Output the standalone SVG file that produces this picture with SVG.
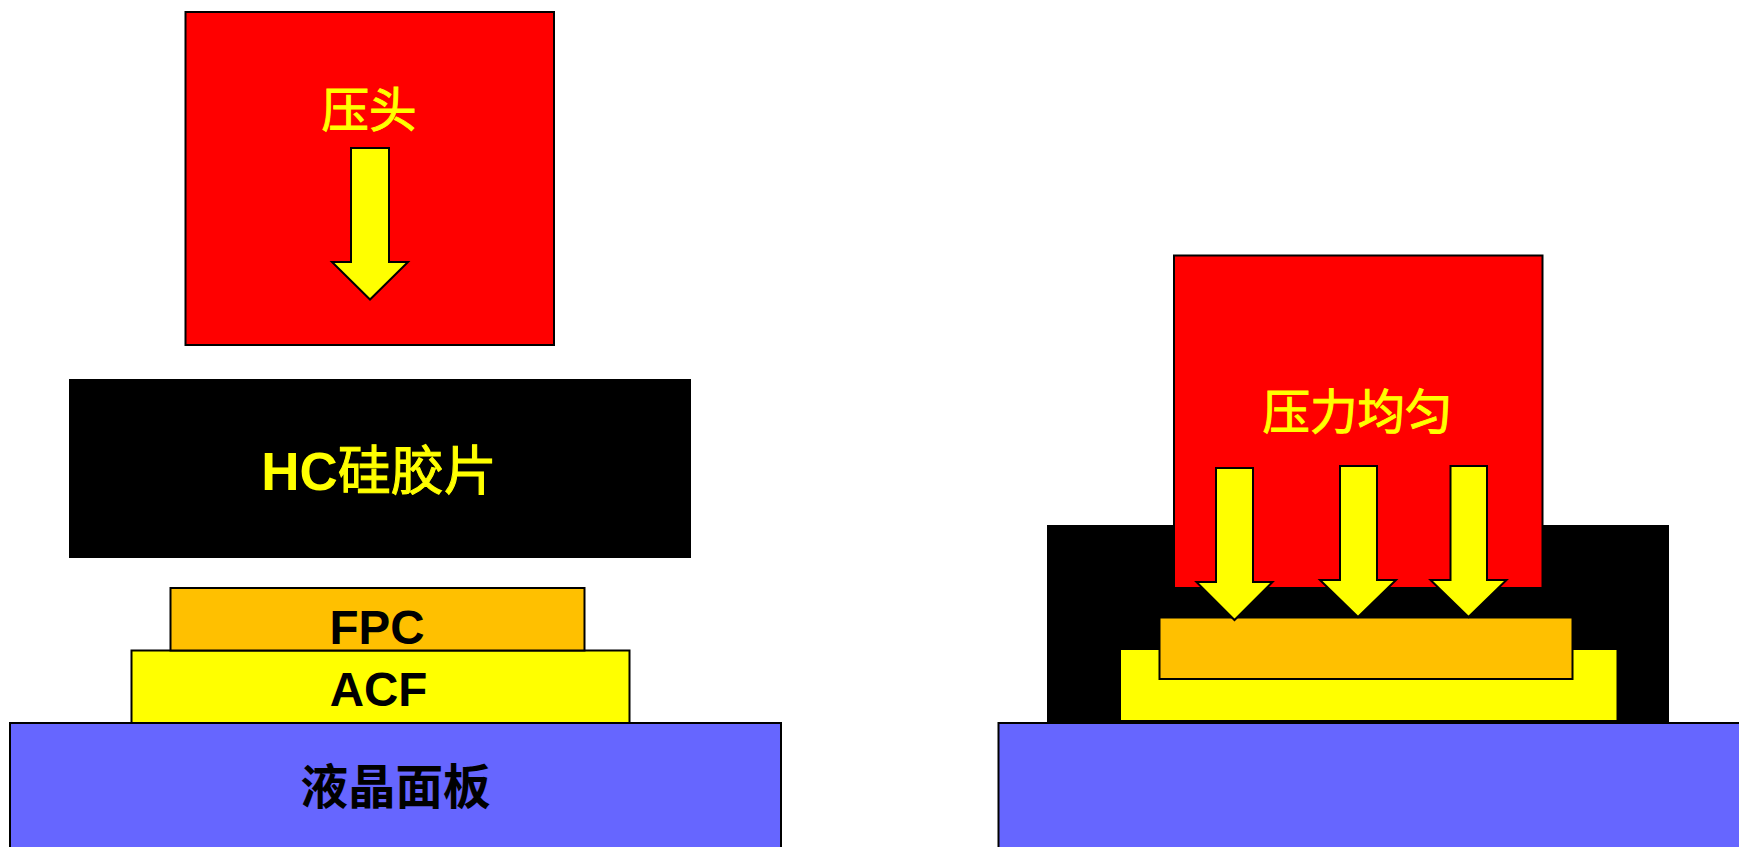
<svg xmlns="http://www.w3.org/2000/svg" width="1739" height="847" viewBox="0 0 1739 847">
<style>
.box{stroke:#000;stroke-width:2}
.red{fill:#f00}.blk{fill:#000}.org{fill:#ffc000}.yel{fill:#ff0}.blu{fill:#6666ff}
.arr{fill:#ff0;stroke:#000;stroke-width:2;stroke-linejoin:miter}
.lat{font-family:"Liberation Sans",Arial,sans-serif;font-weight:700;font-size:47.500px;text-anchor:middle}
.cjk{font-family:"Noto Sans CJK SC",sans-serif;font-size:47.500px;text-anchor:middle}
.thick{stroke:#ff0;stroke-width:1}
.hc{fill:#ff0;font-size:53px}
.hcz{font-family:"Noto Sans CJK SC",sans-serif;font-size:53px;font-weight:400;stroke:#ff0;stroke-width:1}
</style>
<rect width="1739" height="847" fill="#fff"/>
<g id="left-panel"><rect class="box blu" x="10" y="723" width="771" height="140"/><text class="cjk" x="395.500" y="804" font-weight="700">液晶面板</text></g>
<g id="left-acf"><rect class="box yel" x="131.500" y="650.500" width="498" height="72.500"/><text class="lat" x="378.500" y="706">ACF</text></g>
<g id="left-fpc"><rect class="box org" x="170.500" y="588" width="414" height="62.500"/><text class="lat" x="377" y="644">FPC</text></g>
<g id="left-hc"><rect class="box blk" x="70" y="380" width="620" height="177"/><text x="379" y="490" class="lat hc">HC<tspan class="hcz">硅胶片</tspan></text></g>
<g id="left-head"><rect class="box red" x="185.500" y="12" width="368.500" height="333"/><text class="cjk thick" x="369" y="127" fill="#ff0">压头</text></g>
<g id="right-panel"><rect class="box blu" x="998.500" y="723" width="760" height="140"/></g>
<g id="right-hc"><rect class="blk" x="1047" y="525" width="622" height="198"/></g>
<g id="right-acf"><rect class="box yel" x="1120" y="649" width="497.500" height="72"/></g>
<g id="right-head"><rect class="box red" x="1174" y="255.500" width="368.500" height="332.500"/><text class="cjk thick" x="1357.500" y="429" fill="#ff0">压力均匀</text></g>
<g id="right-fpc"><rect class="box org" x="1159.500" y="617.500" width="413" height="61.500"/></g>
<g id="connectors">
<polygon class="arr" points="351,148 389,148 389,262 408,262 370,299.500 332,262 351,262"/>
<polygon class="arr" points="1216,468 1253,468 1253,582 1272.500,582 1234.500,620 1196.500,582 1216,582"/>
<polygon class="arr" points="1340,466 1377,466 1377,580 1396,580 1358,617 1320,580 1340,580"/>
<polygon class="arr" points="1450.500,466 1487,466 1487,580 1506.500,580 1468.500,617 1430.500,580 1450.500,580"/>
</g>
</svg>
